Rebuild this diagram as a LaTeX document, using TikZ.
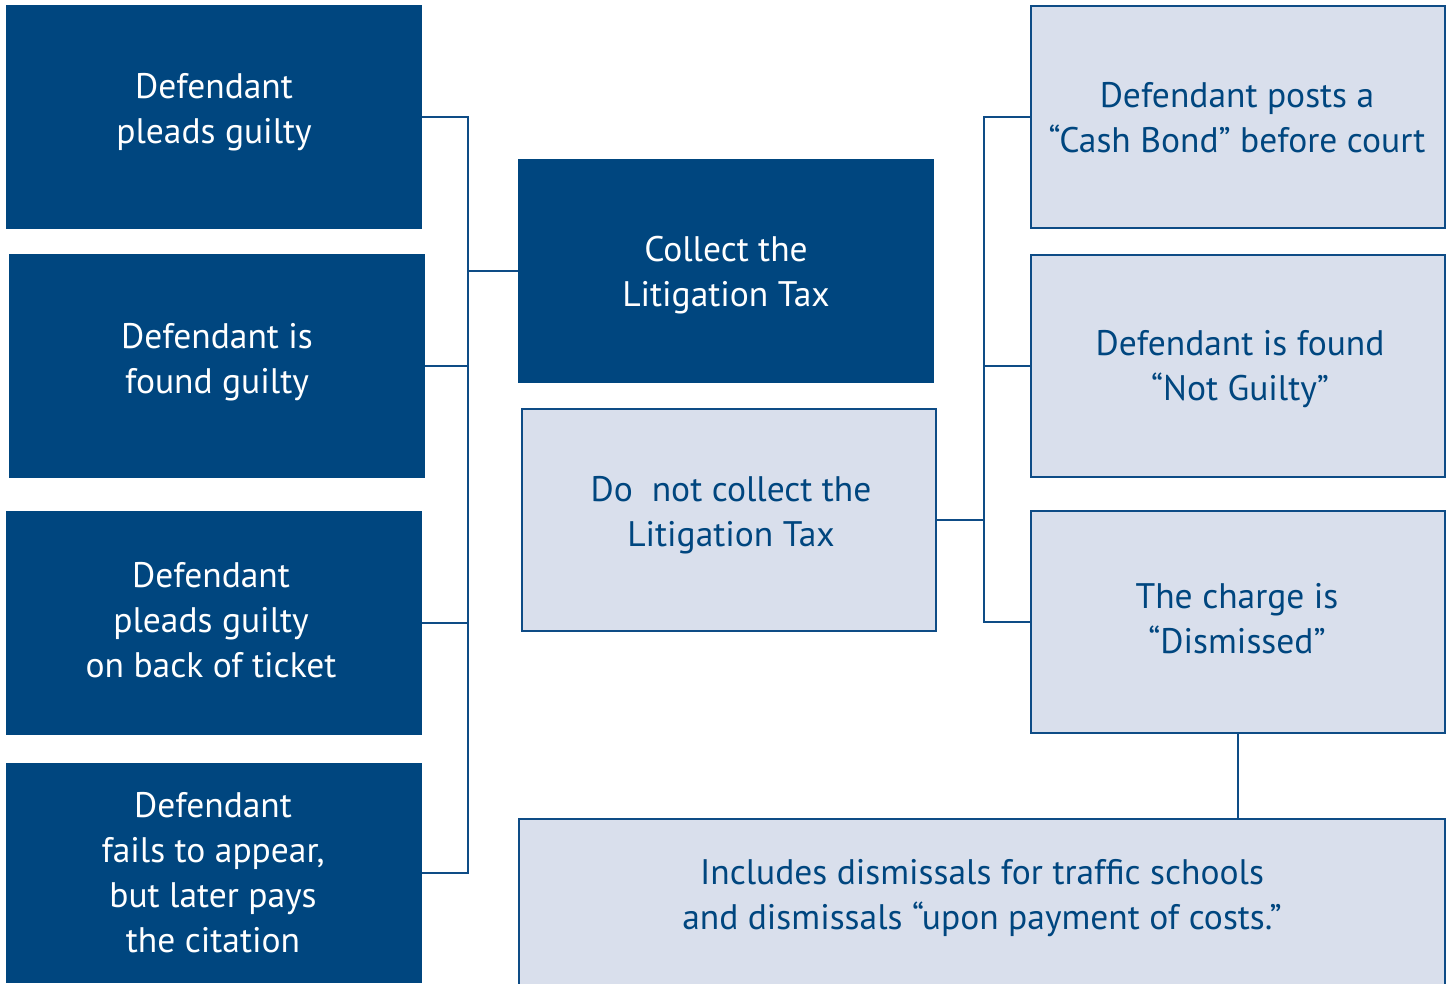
\documentclass[tikz,border=0pt]{standalone}
\usepackage{fontspec}
\setmainfont{PT Sans}
\definecolor{navy}{RGB}{0,70,127}
\definecolor{pale}{RGB}{217,223,236}
\definecolor{linec}{RGB}{14,76,134}
\tikzset{
  darkbox/.style={fill=navy, draw=none, inner sep=0pt, outer sep=0pt, minimum width=416pt, minimum height=224pt},
  palebox/.style={fill=pale, draw=linec, line width=2.2pt, inner sep=0pt, outer sep=0pt},
  wtext/.style={text=white, align=center, font=\fontsize{35.5}{45}\selectfont, inner sep=0pt},
  btext/.style={text=navy, align=center, font=\fontsize{35.5}{45}\selectfont, inner sep=0pt},
  conn/.style={draw=linec, line width=2pt}
}
\begin{document}
\begin{tikzpicture}[x=1pt,y=-1pt]
\useasboundingbox (0,0) rectangle (1449,983);
\clip (0,0) rectangle (1449,983);
% left column
\node[darkbox] (b1) at (214,117) {};
\node[darkbox] (b2) at (217,366) {};
\node[darkbox] (b3) at (214,622.5) {};
\node[darkbox, minimum height=220pt] (b4) at (214,873) {};
\node[wtext] (t1) at (214,112) {Defendant\\pleads guilty};
\node[wtext] (t2) at (217,362) {Defendant is\\found guilty};
\node[wtext] (t3) at (211,620) {Defendant\\pleads guilty\\on back of ticket};
\node[wtext] (t4) at (213,873) {Defendant\\fails to appear,\\but later pays\\the citation};
% centre
\node[darkbox] (collect) at (726,271) {};
\node[wtext] (tc) at (726,275) {Collect the\\Litigation Tax};
\node[palebox, minimum width=414pt, minimum height=222pt] (donot) at (729,520) {};
\node[btext] (td) at (731,515) {Do~~not collect the\\Litigation Tax};
% right column
\node[palebox, minimum width=414pt, minimum height=222pt] (r1) at (1238,117) {};
\node[palebox, minimum width=414pt, minimum height=222pt] (r2) at (1238,366) {};
\node[palebox, minimum width=414pt, minimum height=222pt] (r3) at (1238,622) {};
\node[btext] (tr1) at (1237,118) {Defendant posts a\\“Cash Bond” before court};
\node[btext] (tr2) at (1240,369) {Defendant is found\\“Not Guilty”};
\node[btext] (tr3) at (1237,619) {The charge is\\“Dismissed”};
% bottom
\node[palebox, minimum width=926pt, minimum height=220pt] (bot) at (982,929) {};
\node[btext] (tb) at (982,898) {Includes dismissals for traffic schools\\and dismissals “upon payment of costs.”};
% buses
\coordinate (busL) at (468,271);
\coordinate (busR) at (984,366);
\draw[conn] (b1.east) -| (b4.east -| busL) -- (b4.east);
\draw[conn] (b2.east) -- (b2.east -| busL);
\draw[conn] (b3.east) -- (b3.east -| busL);
\draw[conn] (collect.west -| busL) -- (collect.west);
\draw[conn] (r1.west) -| (r3.west -| busR) -- (r3.west);
\draw[conn] (r2.west) -- (r2.west -| busR);
\draw[conn] (donot.east) -- (donot.east -| busR);
\draw[conn] (r3.south) -- (r3.south |- bot.north);
\end{tikzpicture}
\end{document}
